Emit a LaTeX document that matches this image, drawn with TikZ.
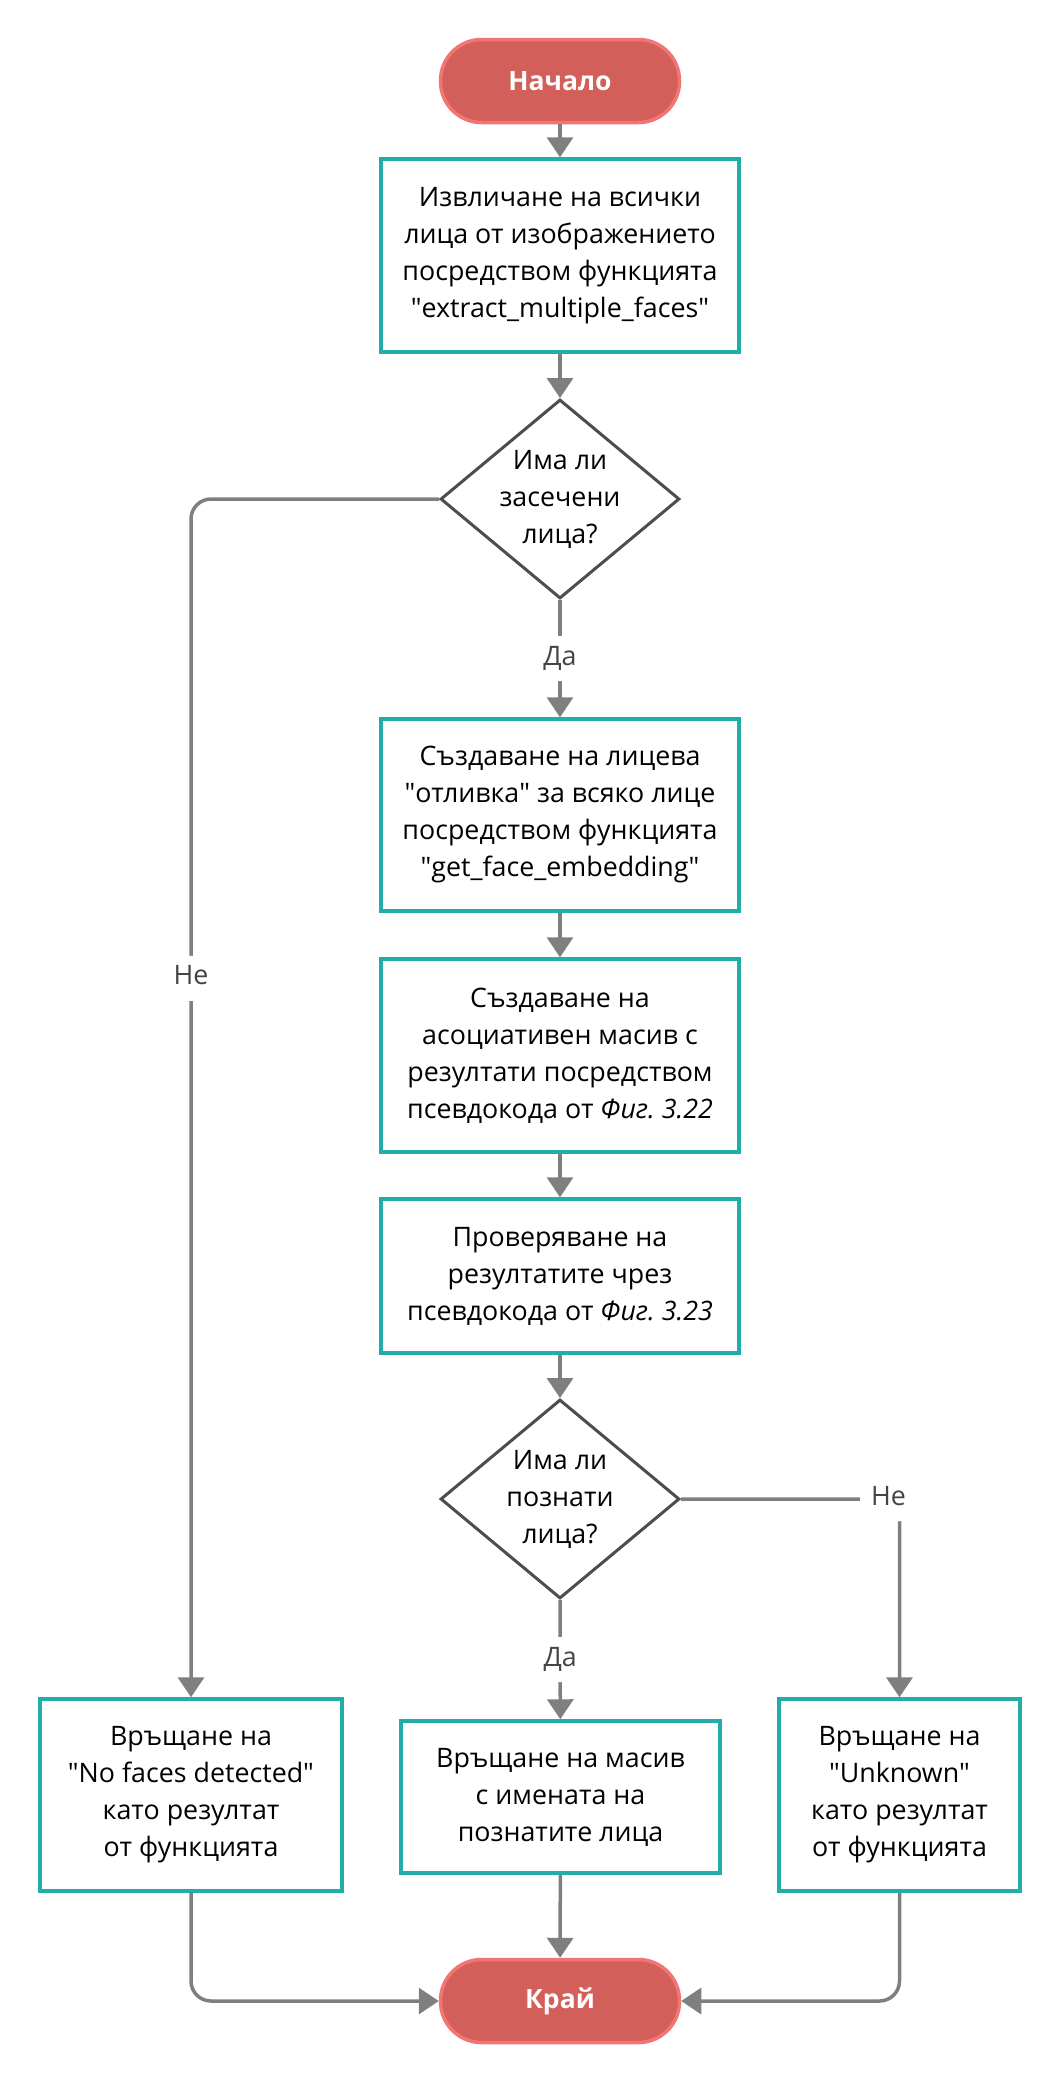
\documentclass[tikz,border=0pt]{standalone}
\usepackage{fontspec}
\setmainfont{Open Sans}
% same face without the TeX quote mapping, for straight double quotes
\newfontfamily\plainsans{Open Sans}
\usetikzlibrary{shapes.geometric,arrows.meta}

\definecolor{termfill}{HTML}{D35F5A}
\definecolor{termline}{HTML}{F27574}
\definecolor{procline}{HTML}{23ADAA}
\definecolor{decline}{HTML}{4D4D4D}
\definecolor{wire}{HTML}{7F7F7F}
\definecolor{lbl}{HTML}{444444}

\newcommand{\boxfont}{\fontsize{26.8}{37}\selectfont}
\newcommand{\qq}{{\plainsans\symbol{34}}}

\begin{document}
\begin{tikzpicture}[x=1pt,y=-1pt,
  terminal/.style={rectangle, rounded corners=41pt, fill=termfill, draw=termline,
    line width=3.5pt, minimum width=239pt, minimum height=83pt, inner sep=0pt,
    text=white, font=\bfseries\fontsize{26.5}{30}\selectfont},
  process/.style={rectangle, draw=procline, line width=3.5pt, fill=white,
    align=center, inner sep=0pt, font=\boxfont},
  decision/.style={diamond, draw=decline, line width=3pt, fill=white,
    minimum width=239pt, minimum height=199pt, inner sep=0pt},
  dtext/.style={align=center, inner sep=0pt, font=\boxfont},
  flow/.style={draw=wire, line width=3.5pt, rounded corners=20pt,
    -{Triangle[length=20pt,width=26pt]}},
  lab/.style={fill=white, text=lbl, inner sep=11pt, text height=18pt,
    text depth=5pt, font=\boxfont}
]
\useasboundingbox (0,0) rectangle (1060,2081);

% main column
\node[terminal] (start) at (560,81) {Начало};
\node[process, minimum width=358pt, minimum height=193pt] (b1) at (560,255.5)
  {Извличане на всички\\лица от изображението\\посредством функцията\\\qq extract\_multiple\_faces\qq};
\node[decision] (d1) at (560,499) {};
\node[dtext] (d1t) at (560,499) {Има ли\\засечени\\лица?};
\node[process, minimum width=358pt, minimum height=192pt] (b2) at (560,815)
  {Създаване на лицева\\\qq отливка\qq{} за всяко лице\\посредством функцията\\\qq get\_face\_embedding\qq};
\node[process, minimum width=358pt, minimum height=193pt] (b3) at (560,1055.5)
  {Създаване на\\асоциативен масив с\\резултати посредством\\псевдокода от \textit{Фиг.\ 3.22}};
\node[process, minimum width=358pt, minimum height=154pt] (b4) at (560,1276)
  {Проверяване на\\резултатите чрез\\псевдокода от \textit{Фиг.\ 3.23}};
\node[decision] (d2) at (560,1499) {};
\node[dtext] (d2t) at (560,1499) {Има ли\\познати\\лица?};

% results
\node[process, minimum width=302pt, minimum height=192pt] (lb) at (191,1795)
  {Връщане на\\\qq No faces detected\qq\\като резултат\\от функцията};
\node[process, minimum width=319pt, minimum height=152pt] (mb) at (560.5,1797)
  {Връщане на масив\\с имената на\\познатите лица};
\node[process, minimum width=241pt, minimum height=192pt] (rb) at (899.5,1795)
  {Връщане на\\\qq Unknown\qq\\като резултат\\от функцията};
\node[terminal] (end) at (560,2001) {Край};

% connectors
\draw[flow] (start) -- (b1);
\draw[flow] (b1) -- (d1);
\draw[flow] (d1.south) -- node[lab] {Да} (b2);
\draw[flow] (d1.west) -| node[lab, pos=0.7] {Не} (lb);
\draw[flow] (b2) -- (b3);
\draw[flow] (b3) -- (b4);
\draw[flow] (b4) -- (d2);
\draw[flow] (d2.south) -- node[lab] {Да} (mb);
\draw[flow] (d2.east) -| node[lab, pos=0.5, xshift=-11pt] {Не} (rb);
\draw[flow] (lb) |- (end);
\draw[flow] (mb) -- (end);
\draw[flow] (rb) |- (end);
\end{tikzpicture}
\end{document}
